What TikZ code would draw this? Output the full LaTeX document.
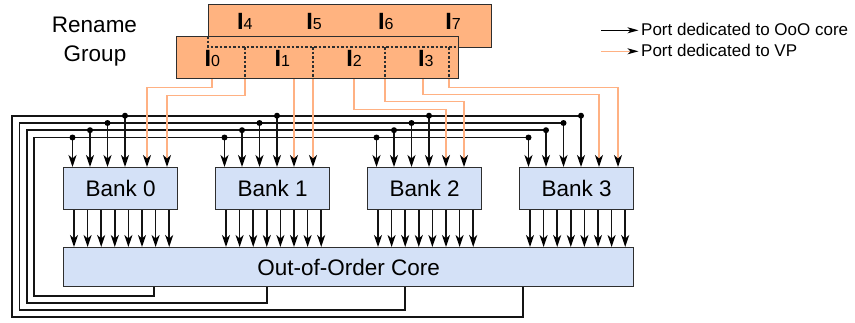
\documentclass[tikz,border=0pt]{standalone}
\usepackage{fontspec}
\setmainfont{Liberation Sans}
\usetikzlibrary{arrows.meta,calc}
\definecolor{peach}{HTML}{FFB380}
\definecolor{wireor}{HTML}{FFB183}
\definecolor{bluebox}{HTML}{D4E1F7}
\definecolor{edge}{HTML}{2E2E2E}
\newcommand\ilab[1]{{\fontsize{23.5}{23}\selectfont\bfseries I}{\fontsize{16}{16}\selectfont #1}}
\begin{document}
\begin{tikzpicture}[x=1pt,y=-1pt,
  bigtxt/.style={font=\fontsize{22.5}{29}\selectfont},
  blk/.style={draw=edge, fill=bluebox, line width=1.4pt, anchor=north west, inner sep=0pt, bigtxt},
  ren/.style={draw=edge, fill=peach, line width=1.4pt, anchor=north west, inner sep=0pt},
  wire/.style={draw=black!92, line width=1.7pt},
  owire/.style={draw=wireor, line width=1.7pt},
  tip/.style={-{Stealth[length=12pt,width=8pt,inset=3.5pt,color=black,fill=black]}},
  ltip/.style={-{Stealth[length=11pt,width=6pt,inset=3pt,color=black,fill=black]}},
  dot/.style={circle, fill=black, inner sep=0pt, minimum size=6pt},
  div/.style={draw=edge, line width=1.1pt, dash pattern=on 2.5pt off 2pt},
  iname/.style={anchor=base west, inner sep=0pt},
  legtxt/.style={anchor=base west, inner sep=0pt, font=\fontsize{17}{20}\selectfont},
]
\useasboundingbox (0,0) rectangle (855,322);

% ---- Rename group ----
\node[anchor=base, inner sep=0pt, bigtxt] (rn1) at (94.5,32.7) {Rename};
\node[anchor=base, inner sep=0pt, bigtxt] (rn2) at (95,61.7) {Group};

\node[ren, minimum width=283, minimum height=43] (back) at (208,4) {};
\node[ren, minimum width=282, minimum height=42] (front) at (176,36) {};
\draw[div] (208,36) -- (208,47) -- (458,47);
\foreach \xx in {245,313,385,449} \draw[div] (\xx,47) -- (\xx,78);

\node[iname] (i4) at (236.8,29.3) {\ilab{4}};
\node[iname] (i5) at (306.2,29.3) {\ilab{5}};
\node[iname] (i6) at (377.8,29.3) {\ilab{6}};
\node[iname] (i7) at (445.2,29.3) {\ilab{7}};
\node[iname] (i0) at (204.5,66) {\ilab{0}};
\node[iname] (i1) at (274.5,66) {\ilab{1}};
\node[iname] (i2) at (346.2,66) {\ilab{2}};
\node[iname] (i3) at (417.8,66) {\ilab{3}};

% ---- Banks and core ----
\foreach \i/\x in {0/63,1/215,2/367,3/519}
  \node[blk, minimum width=114, minimum height=42] (b\i) at (\x,167) {Bank \i};
\node[blk, minimum width=570, minimum height=39] (core) at (63,247) {Out-of-Order Core};

% bank -> core outputs
\foreach \i in {0,1,2,3}
  \foreach \k in {0,...,7} {
    \pgfmathsetmacro\off{11+13.6*\k}
    \coordinate (o\i\k) at ($(b\i.south west)+(\off,0)$);
    \draw[wire,tip] (o\i\k) -- (o\i\k |- core.north);
  }

% black input taps
\foreach \i in {0,1,2,3}
  \foreach \k/\ty in {0/137.5,1/130.2,2/123,3/115.7} {
    \pgfmathsetmacro\off{9.5+17.5*\k}
    \pgfmathsetmacro\dy{\ty-167}
    \coordinate (in\i\k) at ($(b\i.north west)+(\off,0)$);
    \coordinate (tt\i\k) at ($(b\i.north west)+(\off,\dy)$);
  }

% feedback loops from core
\foreach \k/\ox/\lx/\by in {0/91/34/296,1/204/27/303,2/342/19.5/310,3/460/12/317} {
  \coordinate (out\k) at ($(core.south west)+(\ox,0)$);
  \coordinate (lb\k) at (\lx,\by);
  \draw[wire,tip] (out\k) |- (lb\k) |- (tt3\k) -- (in3\k);
  \node[dot] at (tt3\k) {};
  \foreach \i in {0,1,2} {
    \draw[wire,tip] (tt\i\k) -- (in\i\k);
    \node[dot] at (tt\i\k) {};
  }
}

% orange (VP) ports
\foreach \s/\so/\b/\bo/\d in {0/36/0/84/8, 1/69/0/104/16, 2/118/1/79/8, 3/137/1/98/8,
                             4/178/2/79/30, 5/209/2/97/22, 6/247/3/80/15, 7/273/3/99/8} {
  \coordinate (s\s) at ($(front.south west)+(\so,0)$);
  \coordinate (r\s) at ($(b\b.north west)+(\bo,0)$);
  \draw[owire,tip] (s\s) -- ++(0,\d) -| (r\s);
}

% ---- Legend ----
\node[legtxt] (lg1) at (641,35) {Port dedicated to OoO core};
\node[legtxt] (lg2) at (641,56.7) {Port dedicated to VP};
\coordinate (la1) at (601,30.3);
\coordinate (la2) at (601,51.3);
\draw[draw=black, line width=1.2pt, ltip, shorten >=2.5pt] (la1) -- (la1 -| lg1.west);
\draw[draw=wireor, line width=1.2pt, ltip, shorten >=2.5pt] (la2) -- (la2 -| lg2.west);
\end{tikzpicture}
\end{document}
